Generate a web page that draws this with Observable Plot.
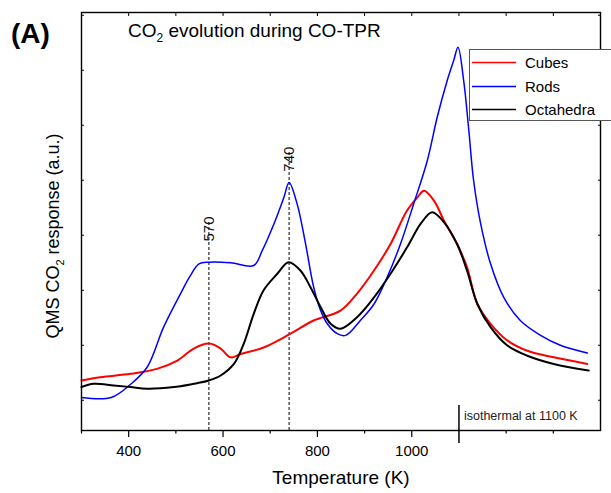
<!DOCTYPE html>
<html>
<head>
<meta charset="utf-8">
<script src="https://cdn.jsdelivr.net/npm/d3@7"></script>
<script src="https://cdn.jsdelivr.net/npm/@observablehq/plot@0.6"></script>
<style>
  html, body { margin: 0; padding: 0; background: #fff; }
  #chart svg { display: block; }
</style>
</head>
<body>
<div id="chart"></div>
<script>
// CO2 signal (a.u.) against temperature (K); beyond 1100 K the sample is held isothermal.
const cubes = [
  [300, 0.36], [340, 0.42], [404, 0.48], [460, 0.57], [503, 0.72], [538, 0.94],
  [570, 1.03], [595, 0.94], [616, 0.78], [637, 0.84], [686, 0.96], [743, 1.21],
  [792, 1.45], [849, 1.63], [884, 1.94], [920, 2.36], [955, 2.84], [990, 3.45],
  [1012, 3.69], [1026, 3.81], [1047, 3.63], [1068, 3.27], [1096, 2.84], [1117, 2.42],
  [1139, 1.75], [1167, 1.39], [1202, 1.09], [1245, 0.90], [1301, 0.78], [1372, 0.66]
];
const rods = [
  [300, 0.05], [363, 0.05], [404, 0.29], [439, 0.60], [474, 1.33], [510, 1.94],
  [531, 2.27], [549, 2.48], [570, 2.51], [616, 2.50], [665, 2.45], [683, 2.72],
  [708, 3.21], [729, 3.69], [740, 3.96], [757, 3.57], [775, 2.84], [792, 2.06],
  [807, 1.63], [821, 1.39], [842, 1.21], [860, 1.18], [891, 1.45], [920, 1.75],
  [948, 2.24], [976, 2.84], [1004, 3.57], [1033, 4.36], [1054, 5.15], [1075, 5.81],
  [1089, 6.18], [1098, 6.42], [1110, 5.81], [1121, 4.90], [1131, 4.00], [1146, 3.21],
  [1167, 2.48], [1195, 1.87], [1230, 1.45], [1273, 1.18], [1315, 1.00], [1372, 0.86]
];
const octahedra = [
  [300, 0.24], [326, 0.30], [368, 0.27], [404, 0.24], [439, 0.21], [496, 0.24],
  [545, 0.31], [570, 0.36], [595, 0.45], [623, 0.66], [644, 1.03], [665, 1.57],
  [686, 2.00], [715, 2.30], [739, 2.51], [764, 2.36], [785, 2.06], [807, 1.69],
  [828, 1.39], [849, 1.30], [884, 1.51], [920, 1.87], [955, 2.30], [990, 2.78],
  [1019, 3.21], [1043, 3.42], [1068, 3.24], [1096, 2.84], [1117, 2.36], [1139, 1.75],
  [1167, 1.33], [1202, 1.00], [1245, 0.81], [1301, 0.66], [1375, 0.54]
];

const seriesNames = ["Cubes", "Rods", "Octahedra"];
const seriesColors = ["#ff0000", "#0000ff", "#000000"];

// Marked peak temperatures and the level where each marker line ends
const peakTemps = [570, 740];
const peakTops = [2.85, 4.12];
const isothermalT = 1100;

const xDomain = [300, 1400];
const yDomain = [-0.55, 7.05];
const xMajorTicks = [400, 600, 800, 1000];
const xMinorTicks = [300, 500, 700, 900, 1200, 1300];
const xTopTicks = [400, 500, 600, 700, 800, 900, 1000, 1100, 1200, 1300];
const yTicks = [0, 1, 2, 3, 4, 5, 6, 7];

const toRows = pts => pts.map(([t, v]) => ({t, v}));
const peaks = peakTemps.map((t, i) => ({t, top: peakTops[i]}));
const font = "'Liberation Sans', Arial, Helvetica, sans-serif";
const none = () => "";

const plot = Plot.plot({
  width: 611,
  height: 493,
  marginLeft: 81,
  marginRight: 11,
  marginTop: 12,
  marginBottom: 63,
  x: {domain: xDomain},
  y: {domain: yDomain},
  style: {fontFamily: font, background: "white", color: "black"},
  marks: [
    Plot.ruleX(peaks, {x: "t", y1: () => yDomain[0], y2: "top", insetBottom: 23,
      stroke: "black", strokeWidth: 1, strokeDasharray: "3,2"}),
    Plot.text(peaks, {x: "t", y: "top", text: d => String(d.t), rotate: -90,
      textAnchor: "start", dy: -2, fontSize: 15, fill: "#111"}),
    Plot.line(toRows(cubes), {x: "t", y: "v", stroke: seriesColors[0], strokeWidth: 2, curve: "catmull-rom"}),
    Plot.line(toRows(rods), {x: "t", y: "v", stroke: seriesColors[1], strokeWidth: 1.5, curve: "catmull-rom"}),
    Plot.line(toRows(octahedra), {x: "t", y: "v", stroke: seriesColors[2], strokeWidth: 2, curve: "catmull-rom"}),
    Plot.ruleX([isothermalT], {insetTop: 393, insetBottom: -13, stroke: "black", strokeWidth: 1.5}),
    Plot.text(["isothermal at 1100 K"], {x: () => isothermalT, frameAnchor: "bottom", text: d => d,
      textAnchor: "start", dx: 5, dy: -11, fontSize: 12.5, fill: "#222"}),
    Plot.frame({stroke: "black", strokeWidth: 1.4}),
    Plot.axisX({anchor: "bottom", ticks: xMajorTicks, tickSize: 7, tickPadding: 8,
      tickFormat: d => String(d), fontSize: 15, label: null, strokeWidth: 1.2}),
    Plot.axisX({anchor: "bottom", ticks: xMinorTicks, tickSize: 3.5, tickFormat: none,
      label: null, strokeWidth: 1.2}),
    Plot.axisX({anchor: "top", ticks: xTopTicks, tickSize: -3, tickFormat: none,
      label: null, strokeWidth: 1}),
    Plot.axisY({anchor: "left", ticks: yTicks, tickSize: -3, tickFormat: none,
      label: null, strokeWidth: 1}),
    Plot.axisY({anchor: "right", ticks: yTicks, tickSize: -3, tickFormat: none,
      label: null, strokeWidth: 1}),
    Plot.text(["Temperature (K)"], {frameAnchor: "bottom", text: d => d, dy: 53, fontSize: 19})
  ]
});

document.getElementById("chart").append(plot);

// Texts with subscripts, the panel letter and the legend
const svg = d3.select(plot);

const title = svg.append("text")
  .attr("x", 128).attr("y", 37).attr("text-anchor", "start")
  .attr("font-family", font).attr("font-size", 19).attr("fill", "black");
title.append("tspan").text("CO");
title.append("tspan").attr("font-size", 12).attr("dy", 5).text("2");
title.append("tspan").attr("dy", -5).text(" evolution during CO-TPR");

const ylab = svg.append("text")
  .attr("transform", "translate(59,236) rotate(-90)")
  .attr("text-anchor", "middle")
  .attr("font-family", font).attr("font-size", 18).attr("fill", "black");
ylab.append("tspan").text("QMS CO");
ylab.append("tspan").attr("font-size", 11).attr("dy", 5).text("2");
ylab.append("tspan").attr("dy", -5).text(" response (a.u.)");

svg.append("text")
  .attr("x", 11).attr("y", 43).attr("text-anchor", "start")
  .attr("font-family", font).attr("font-size", 28).attr("font-weight", "bold")
  .attr("fill", "black").text("(A)");

const legend = svg.append("g").attr("text-anchor", "start");
legend.append("rect")
  .attr("x", 469.5).attr("y", 49.5).attr("width", 160).attr("height", 71)
  .attr("fill", "white").attr("stroke", "#555").attr("stroke-width", 1);
seriesNames.forEach((name, i) => {
  const y = Math.round(61.7 + i * 23.8) + 0.5;
  legend.append("line")
    .attr("x1", 472).attr("x2", 516).attr("y1", y).attr("y2", y)
    .attr("stroke", seriesColors[i]).attr("stroke-width", 1.5);
  legend.append("text")
    .attr("x", 525).attr("y", y).attr("dy", "0.35em")
    .attr("font-family", font).attr("font-size", 15).attr("fill", "black")
    .text(name);
});
</script>
</body>
</html>
